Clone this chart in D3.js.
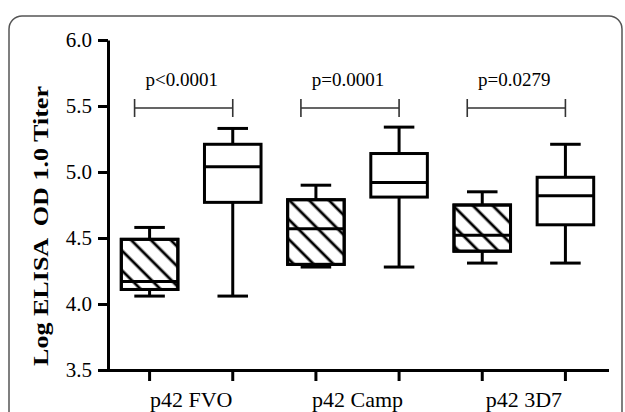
<!DOCTYPE html>
<html>
<head>
<meta charset="utf-8">
<script src="https://cdn.jsdelivr.net/npm/d3@7/dist/d3.min.js"></script>
<style>
  body { margin: 0; background: #fff; }
  text { font-family: "Liberation Serif", "Times New Roman", serif; fill: #000; }
</style>
</head>
<body>
<div class="d3-container"></div>
<script>
// boxes in drawing order: hatched / open for each antigen
const groups = ["p42 FVO", "p42 Camp", "p42 3D7"];
const hatched = [true, false, true, false, true, false];
const lowWhisker = [4.06, 4.06, 4.28, 4.28, 4.31, 4.31];
const q1 = [4.11, 4.77, 4.30, 4.81, 4.40, 4.60];
const median = [4.17, 5.04, 4.57, 4.92, 4.52, 4.82];
const q3 = [4.49, 5.21, 4.79, 5.14, 4.75, 4.96];
const highWhisker = [4.58, 5.33, 4.90, 5.34, 4.85, 5.21];
const pValues = ["p<0.0001", "p=0.0001", "p=0.0279"];
const bracketY = 5.485;
const yTicks = [3.5, 4.0, 4.5, 5.0, 5.5, 6.0];

const width = 625;
const height = 412;
const margin = {top: 40, bottom: 42, left: 108, right: 18};

const svg = d3.select(".d3-container")
  .append("svg")
  .attr("width", width)
  .attr("height", height);

// hatch pattern
svg.append("defs")
  .append("pattern")
  .attr("id", "hatch")
  .attr("patternUnits", "userSpaceOnUse")
  .attr("width", 14)
  .attr("height", 14)
  .attr("patternTransform", "rotate(45)")
  .append("line")
  .attr("x1", 0).attr("x2", 14)
  .attr("y1", 7).attr("y2", 7)
  .attr("stroke", "#000")
  .attr("stroke-width", 2.8);

// rounded frame
svg.append("rect")
  .attr("x", 9).attr("y", 16)
  .attr("width", 613).attr("height", 430)
  .attr("rx", 13)
  .attr("fill", "none")
  .attr("stroke", "#555")
  .attr("stroke-width", 1.5);

const x = d3.scaleBand()
  .domain(d3.range(median.length))
  .range([margin.left, width - margin.right]);

const y = d3.scaleLinear()
  .domain([3.5, 6])
  .range([height - margin.bottom, margin.top]);

const boxW = x.bandwidth() * 0.68;
const capW = boxW * 0.54;
const cx = i => x(i) + x.bandwidth() / 2;

const boxes = svg.append("g")
  .selectAll("g")
  .data(d3.range(median.length))
  .join("g")
  .attr("stroke", "#000")
  .attr("stroke-width", 3);

// whiskers
boxes.append("line")
  .attr("x1", cx).attr("x2", cx)
  .attr("y1", i => y(highWhisker[i]))
  .attr("y2", i => y(lowWhisker[i]));

boxes.append("line")
  .attr("x1", i => cx(i) - capW / 2).attr("x2", i => cx(i) + capW / 2)
  .attr("y1", i => y(highWhisker[i])).attr("y2", i => y(highWhisker[i]));

boxes.append("line")
  .attr("x1", i => cx(i) - capW / 2).attr("x2", i => cx(i) + capW / 2)
  .attr("y1", i => y(lowWhisker[i])).attr("y2", i => y(lowWhisker[i]));

// box body: white under, hatch on top
boxes.append("rect")
  .attr("x", i => cx(i) - boxW / 2)
  .attr("y", i => y(q3[i]))
  .attr("width", boxW)
  .attr("height", i => y(q1[i]) - y(q3[i]))
  .attr("fill", "#fff");

boxes.filter(i => hatched[i])
  .append("rect")
  .attr("x", i => cx(i) - boxW / 2)
  .attr("y", i => y(q3[i]))
  .attr("width", boxW)
  .attr("height", i => y(q1[i]) - y(q3[i]))
  .attr("fill", "url(#hatch)");

boxes.append("line")
  .attr("x1", i => cx(i) - boxW / 2).attr("x2", i => cx(i) + boxW / 2)
  .attr("y1", i => y(median[i])).attr("y2", i => y(median[i]));

// axes
const yAxis = svg.append("g")
  .attr("transform", `translate(${margin.left},0)`)
  .call(d3.axisLeft(y).tickValues(yTicks).tickFormat(d3.format(".1f"))
    .tickSize(10).tickPadding(6).tickSizeOuter(0));

const xAxis = svg.append("g")
  .attr("transform", `translate(0,${height - margin.bottom})`)
  .call(d3.axisBottom(x).tickSize(11).tickFormat("").tickSizeOuter(0));

[yAxis, xAxis].forEach(g => {
  g.select(".domain").attr("stroke", "#000").attr("stroke-width", 3);
  g.selectAll(".tick line").attr("stroke", "#000").attr("stroke-width", 3);
});
xAxis.select(".domain").attr("stroke-linecap", "square");

yAxis.selectAll(".tick text")
  .attr("font-family", "Liberation Serif")
  .attr("font-size", 21)
  .attr("fill", "#000");

// group labels centred under each pair
svg.append("g")
  .selectAll("text")
  .data(groups)
  .join("text")
  .attr("x", (d, g) => (cx(2 * g) + cx(2 * g + 1)) / 2)
  .attr("y", 407)
  .attr("text-anchor", "middle")
  .attr("font-size", 22)
  .text(d => d);

// significance brackets
const br = svg.append("g")
  .selectAll("g")
  .data(pValues)
  .join("g");

const bx1 = g => cx(2 * g) - 15;
const bx2 = g => cx(2 * g + 1);

br.append("path")
  .attr("fill", "none")
  .attr("stroke", "#333")
  .attr("stroke-width", 1.6)
  .attr("d", (d, g) => {
    const yy = y(bracketY);
    return `M${bx1(g)},${yy - 9}V${yy + 9}M${bx1(g)},${yy}H${bx2(g)}M${bx2(g)},${yy - 9}V${yy + 9}`;
  });

br.append("text")
  .attr("x", (d, g) => (bx1(g) + bx2(g)) / 2 - 2)
  .attr("y", y(bracketY) - 22)
  .attr("text-anchor", "middle")
  .attr("font-size", 19)
  .text(d => d);

// y label
svg.append("text")
  .attr("transform", `translate(48,${226}) rotate(-90)`)
  .attr("text-anchor", "middle")
  .attr("font-size", 22)
  .attr("font-weight", "bold")
  .attr("textLength", 280)
  .attr("lengthAdjust", "spacingAndGlyphs")
  .style("white-space", "pre")
  .text("Log ELISA  OD 1.0 Titer");
</script>
</body>
</html>
